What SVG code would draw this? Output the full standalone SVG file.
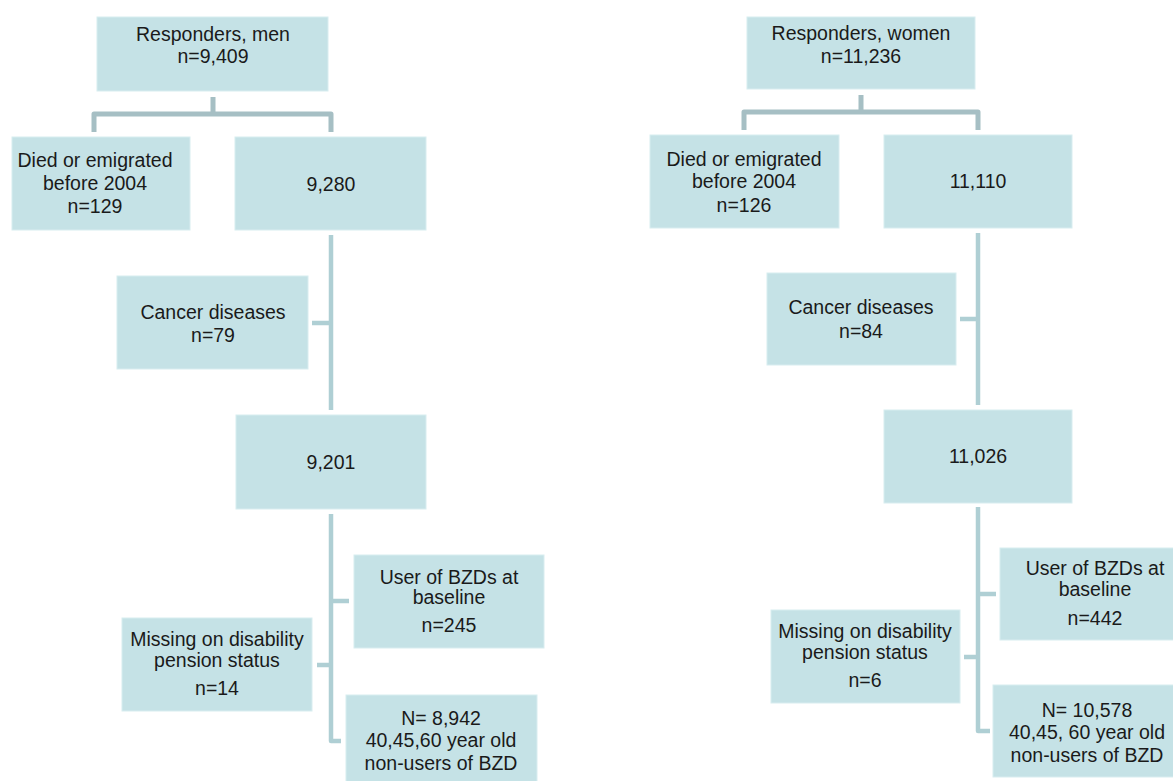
<svg xmlns="http://www.w3.org/2000/svg" width="1173" height="781" viewBox="0 0 1173 781">
<style>
.box{fill:#c5e2e6;stroke:#d8edf0;stroke-width:1}
.t{font-family:"Liberation Sans",Arial,sans-serif;font-size:19.5px;fill:#1a1a1a;text-anchor:middle}
.c1{fill:none;stroke:#a6bfc4;stroke-width:5;stroke-linejoin:round}
.c2{fill:none;stroke:#afcfd4;stroke-width:4.5;stroke-linejoin:round}
</style>
<rect width="1173" height="781" fill="#ffffff"/>
<g id="connectors">
<path class="c1" d="M213,97 V114 M94,132 V114 H331 V132"/>
<path class="c2" d="M331,235 V410 M312,323 H331"/>
<path class="c2" d="M331,514 V741 H341 M331,601 H349 M317,665 H331"/>
<path class="c1" d="M861,95 V112 M744,130 V112 H978 V130"/>
<path class="c2" d="M978,233 V405 M960,319 H978"/>
<path class="c2" d="M978,507 V731 H990 M978,594 H996 M964,657 H978"/>
</g>
<g id="men-responders"><rect class="box" x="97" y="17" width="231" height="74"/>
<text class="t" x="213" y="41">Responders, men</text><text class="t" x="213" y="63">n=9,409</text></g>
<g id="men-died"><rect class="box" x="12" y="137" width="178" height="93"/>
<text class="t" x="95" y="167">Died or emigrated</text><text class="t" x="95" y="190">before 2004</text><text class="t" x="95" y="213">n=129</text></g>
<g id="men-9280"><rect class="box" x="235" y="137" width="191" height="93"/>
<text class="t" x="331" y="191">9,280</text></g>
<g id="men-cancer"><rect class="box" x="117" y="276" width="191" height="93"/>
<text class="t" x="213" y="319">Cancer diseases</text><text class="t" x="213" y="342">n=79</text></g>
<g id="men-9201"><rect class="box" x="236" y="415" width="190" height="94"/>
<text class="t" x="331" y="469">9,201</text></g>
<g id="men-bzd"><rect class="box" x="354" y="555" width="190" height="93"/>
<text class="t" x="449" y="584">User of BZDs at</text><text class="t" x="449" y="604">baseline</text><text class="t" x="449" y="632">n=245</text></g>
<g id="men-missing"><rect class="box" x="122" y="618" width="190" height="93"/>
<text class="t" x="217" y="646">Missing on disability</text><text class="t" x="217" y="667">pension status</text><text class="t" x="217" y="695">n=14</text></g>
<g id="men-final"><rect class="box" x="346" y="695" width="191" height="93"/>
<text class="t" x="441" y="725">N= 8,942</text><text class="t" x="441" y="747">40,45,60 year old</text><text class="t" x="441" y="770">non-users of BZD</text></g>
<g id="women-responders"><rect class="box" x="747" y="17" width="228" height="72"/>
<text class="t" x="861" y="40">Responders, women</text><text class="t" x="861" y="63">n=11,236</text></g>
<g id="women-died"><rect class="box" x="650" y="135" width="189" height="93"/>
<text class="t" x="744" y="166">Died or emigrated</text><text class="t" x="744" y="188">before 2004</text><text class="t" x="744" y="212">n=126</text></g>
<g id="women-11110"><rect class="box" x="884" y="135" width="188" height="93"/>
<text class="t" x="978" y="188">11,110</text></g>
<g id="women-cancer"><rect class="box" x="767" y="273" width="189" height="92"/>
<text class="t" x="861" y="314">Cancer diseases</text><text class="t" x="861" y="338">n=84</text></g>
<g id="women-11026"><rect class="box" x="884" y="410" width="188" height="93"/>
<text class="t" x="978" y="463">11,026</text></g>
<g id="women-bzd"><rect class="box" x="1000" y="548" width="190" height="92"/>
<text class="t" x="1095" y="575">User of BZDs at</text><text class="t" x="1095" y="596">baseline</text><text class="t" x="1095" y="625">n=442</text></g>
<g id="women-missing"><rect class="box" x="771" y="610" width="189" height="93"/>
<text class="t" x="865" y="638">Missing on disability</text><text class="t" x="865" y="659">pension status</text><text class="t" x="865" y="687">n=6</text></g>
<g id="women-final"><rect class="box" x="993" y="685" width="190" height="92"/>
<text class="t" x="1087" y="717">N= 10,578</text><text class="t" x="1087" y="739">40,45, 60 year old</text><text class="t" x="1087" y="762">non-users of BZD</text></g>
</svg>
